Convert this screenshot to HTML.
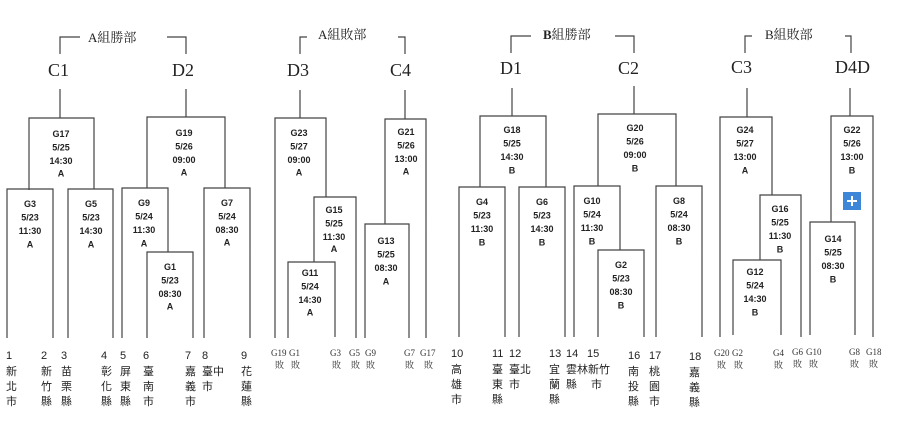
<!DOCTYPE html>
<html><head><meta charset="utf-8"><style>
html,body{margin:0;padding:0;background:#fff;}
svg{display:block;}
.l{fill:none;stroke:#444;stroke-width:1.2;}
.g{font-family:"Liberation Sans",sans-serif;font-weight:bold;font-size:9px;fill:#222;text-anchor:middle;}
.h{font-family:"Liberation Serif","Noto Serif CJK SC",serif;font-size:13px;fill:#222;}
.c{font-family:"Liberation Serif",serif;font-size:18px;fill:#222;}
.n{font-family:"Liberation Sans","Noto Sans CJK TC",sans-serif;font-size:11px;fill:#222;}
.s{font-family:"Liberation Serif","Noto Serif CJK SC",serif;font-size:9px;fill:#333;}
</style></head><body>
<svg width="900" height="422" viewBox="0 0 900 422" xmlns="http://www.w3.org/2000/svg">
<!-- header brackets -->
<path class="l" d="M60 54V37H80 M167 37H186V54 M300 54V37H307 M398 37H405V54 M511 53V36H531 M615 36H634V53 M745 53V36H752 M845 36H851V53"/>
<text class="h" x="88" y="42">A組勝部</text>
<text class="h" x="318" y="39">A組敗部</text>
<text class="h" x="543" y="39"><tspan font-weight="bold">B</tspan>組勝部</text>
<text class="h" x="765" y="39">B組敗部</text>
<text class="c" x="48" y="76">C1</text>
<text class="c" x="172" y="76">D2</text>
<text class="c" x="287" y="76">D3</text>
<text class="c" x="390" y="76">C4</text>
<text class="c" x="500" y="74">D1</text>
<text class="c" x="618" y="74">C2</text>
<text class="c" x="731" y="73">C3</text>
<text class="c" x="835" y="73">D4D</text>
<!-- A winners -->
<path class="l" d="M60 89V118 M29 190V118H94V189 M7 338V189H53V338 M68 338V189H113V338
M186 89V117 M147 188V117H225V188 M122 338V188H168V252 M147 338V252H193V338 M204 338V188H250V338"/>
<!-- A losers -->
<path class="l" d="M300 90V118 M275 338V118H326V197 M314 262V197H356V338 M288 338V262H335V337
M405 90V119 M385 224V119H426V338 M365 338V224H409V338"/>
<!-- B winners -->
<path class="l" d="M512 88V116 M480 187V116H546V187 M459 337V187H505V337 M519 337V187H565V337
M634 86V114 M598 186V114H676V186 M574 337V186H620V250 M598 337V250H644V337 M656 337V186H702V337"/>
<!-- B losers -->
<path class="l" d="M747 88V117 M720 337V117H772V195 M760 260V195H801V337 M733 335V260H781V335
M850 88V116 M831 222V116H873V337 M810 335V222H855V335"/>
<rect x="843" y="192" width="18" height="18" fill="#3d86d8"/>
<path d="M852 196V206 M847 201H857" stroke="#fff" stroke-width="2"/>
<!-- game labels -->
<g class="g">
<text x="61" y="137"><tspan x="61">G17</tspan><tspan x="61" dy="13.5">5/25</tspan><tspan x="61" dy="13.5">14:30</tspan><tspan x="61" dy="12.5">A</tspan></text>
<text x="30" y="207"><tspan x="30">G3</tspan><tspan x="30" dy="13.5">5/23</tspan><tspan x="30" dy="13.5">11:30</tspan><tspan x="30" dy="13.5">A</tspan></text>
<text x="91" y="207"><tspan x="91">G5</tspan><tspan x="91" dy="13.5">5/23</tspan><tspan x="91" dy="13.5">14:30</tspan><tspan x="91" dy="13.5">A</tspan></text>
<text x="184" y="136"><tspan x="184">G19</tspan><tspan x="184" dy="13.5">5/26</tspan><tspan x="184" dy="13.5">09:00</tspan><tspan x="184" dy="12.5">A</tspan></text>
<text x="144" y="206"><tspan x="144">G9</tspan><tspan x="144" dy="13.5">5/24</tspan><tspan x="144" dy="13.5">11:30</tspan><tspan x="144" dy="13.5">A</tspan></text>
<text x="170" y="270"><tspan x="170">G1</tspan><tspan x="170" dy="13.5">5/23</tspan><tspan x="170" dy="13.5">08:30</tspan><tspan x="170" dy="12.5">A</tspan></text>
<text x="227" y="206"><tspan x="227">G7</tspan><tspan x="227" dy="13.5">5/24</tspan><tspan x="227" dy="13.5">08:30</tspan><tspan x="227" dy="12.5">A</tspan></text>
<text x="299" y="136"><tspan x="299">G23</tspan><tspan x="299" dy="13.5">5/27</tspan><tspan x="299" dy="13.5">09:00</tspan><tspan x="299" dy="12.5">A</tspan></text>
<text x="334" y="213"><tspan x="334">G15</tspan><tspan x="334" dy="13.5">5/25</tspan><tspan x="334" dy="13.5">11:30</tspan><tspan x="334" dy="12">A</tspan></text>
<text x="310" y="276"><tspan x="310">G11</tspan><tspan x="310" dy="13.5">5/24</tspan><tspan x="310" dy="13.5">14:30</tspan><tspan x="310" dy="12.5">A</tspan></text>
<text x="406" y="135"><tspan x="406">G21</tspan><tspan x="406" dy="13.5">5/26</tspan><tspan x="406" dy="13.5">13:00</tspan><tspan x="406" dy="12.5">A</tspan></text>
<text x="386" y="244"><tspan x="386">G13</tspan><tspan x="386" dy="13.5">5/25</tspan><tspan x="386" dy="13.5">08:30</tspan><tspan x="386" dy="13.5">A</tspan></text>
<text x="512" y="133"><tspan x="512">G18</tspan><tspan x="512" dy="13.5">5/25</tspan><tspan x="512" dy="13.5">14:30</tspan><tspan x="512" dy="13.5">B</tspan></text>
<text x="482" y="205"><tspan x="482">G4</tspan><tspan x="482" dy="13.5">5/23</tspan><tspan x="482" dy="13.5">11:30</tspan><tspan x="482" dy="13.5">B</tspan></text>
<text x="542" y="205"><tspan x="542">G6</tspan><tspan x="542" dy="13.5">5/23</tspan><tspan x="542" dy="13.5">14:30</tspan><tspan x="542" dy="13.5">B</tspan></text>
<text x="635" y="131"><tspan x="635">G20</tspan><tspan x="635" dy="13.5">5/26</tspan><tspan x="635" dy="13.5">09:00</tspan><tspan x="635" dy="13.5">B</tspan></text>
<text x="592" y="204"><tspan x="592">G10</tspan><tspan x="592" dy="13.5">5/24</tspan><tspan x="592" dy="13.5">11:30</tspan><tspan x="592" dy="13.5">B</tspan></text>
<text x="621" y="268"><tspan x="621">G2</tspan><tspan x="621" dy="13.5">5/23</tspan><tspan x="621" dy="13.5">08:30</tspan><tspan x="621" dy="13.5">B</tspan></text>
<text x="679" y="204"><tspan x="679">G8</tspan><tspan x="679" dy="13.5">5/24</tspan><tspan x="679" dy="13.5">08:30</tspan><tspan x="679" dy="13.5">B</tspan></text>
<text x="745" y="133"><tspan x="745">G24</tspan><tspan x="745" dy="13.5">5/27</tspan><tspan x="745" dy="13.5">13:00</tspan><tspan x="745" dy="13.5">A</tspan></text>
<text x="780" y="212"><tspan x="780">G16</tspan><tspan x="780" dy="13.5">5/25</tspan><tspan x="780" dy="13.5">11:30</tspan><tspan x="780" dy="13.5">B</tspan></text>
<text x="755" y="275"><tspan x="755">G12</tspan><tspan x="755" dy="13.5">5/24</tspan><tspan x="755" dy="13.5">14:30</tspan><tspan x="755" dy="13.5">B</tspan></text>
<text x="852" y="133"><tspan x="852">G22</tspan><tspan x="852" dy="13.5">5/26</tspan><tspan x="852" dy="13.5">13:00</tspan><tspan x="852" dy="13.5">B</tspan></text>
<text x="833" y="242"><tspan x="833">G14</tspan><tspan x="833" dy="13.5">5/25</tspan><tspan x="833" dy="13.5">08:30</tspan><tspan x="833" dy="13.5">B</tspan></text>
</g>
<!-- team labels -->
<g class="n">
<text x="6" y="359">1</text><text x="6" y="375">新</text><text x="6" y="390">北</text><text x="6" y="405">市</text>
<text x="41" y="359">2</text><text x="41" y="375">新</text><text x="41" y="390">竹</text><text x="41" y="405">縣</text>
<text x="61" y="359">3</text><text x="61" y="375">苗</text><text x="61" y="390">栗</text><text x="61" y="405">縣</text>
<text x="101" y="359">4</text><text x="101" y="375">彰</text><text x="101" y="390">化</text><text x="101" y="405">縣</text>
<text x="120" y="359">5</text><text x="120" y="375">屏</text><text x="120" y="390">東</text><text x="120" y="405">縣</text>
<text x="143" y="359">6</text><text x="143" y="375">臺</text><text x="143" y="390">南</text><text x="143" y="405">市</text>
<text x="185" y="359">7</text><text x="185" y="375">嘉</text><text x="185" y="390">義</text><text x="185" y="405">市</text>
<text x="202" y="359">8</text><text x="202" y="375">臺中</text><text x="202" y="390">市</text>
<text x="241" y="359">9</text><text x="241" y="375">花</text><text x="241" y="390">蓮</text><text x="241" y="405">縣</text>
<text x="451" y="357">10</text><text x="451" y="373">高</text><text x="451" y="388">雄</text><text x="451" y="403">市</text>
<text x="492" y="357">11</text><text x="492" y="373">臺</text><text x="492" y="388">東</text><text x="492" y="403">縣</text>
<text x="509" y="357">12</text><text x="509" y="373">臺北</text><text x="509" y="388">市</text>
<text x="549" y="357">13</text><text x="549" y="373">宜</text><text x="549" y="388">蘭</text><text x="549" y="403">縣</text>
<text x="566" y="357">14</text><text x="566" y="373">雲林新竹</text><text x="566" y="388">縣</text><text x="591" y="388">市</text>
<text x="587" y="357">15</text>
<text x="628" y="359">16</text><text x="628" y="375">南</text><text x="628" y="390">投</text><text x="628" y="405">縣</text>
<text x="649" y="359">17</text><text x="649" y="375">桃</text><text x="649" y="390">園</text><text x="649" y="405">市</text>
<text x="689" y="360">18</text><text x="689" y="376">嘉</text><text x="689" y="391">義</text><text x="689" y="406">縣</text>
</g>
<g class="s">
<text x="271" y="356">G19</text><text x="275" y="368">敗</text>
<text x="289" y="356">G1</text><text x="291" y="368">敗</text>
<text x="330" y="356">G3</text><text x="332" y="368">敗</text>
<text x="349" y="356">G5</text><text x="351" y="368">敗</text>
<text x="365" y="356">G9</text><text x="366" y="368">敗</text>
<text x="404" y="356">G7</text><text x="405" y="368">敗</text>
<text x="420" y="356">G17</text><text x="424" y="368">敗</text>
<text x="714" y="356">G20</text><text x="717" y="368">敗</text>
<text x="732" y="356">G2</text><text x="734" y="368">敗</text>
<text x="773" y="356">G4</text><text x="774" y="368">敗</text>
<text x="792" y="355">G6</text><text x="793" y="367">敗</text>
<text x="806" y="355">G10</text><text x="809" y="367">敗</text>
<text x="849" y="355">G8</text><text x="850" y="367">敗</text>
<text x="866" y="355">G18</text><text x="869" y="367">敗</text>
</g>
</svg>
</body></html>
